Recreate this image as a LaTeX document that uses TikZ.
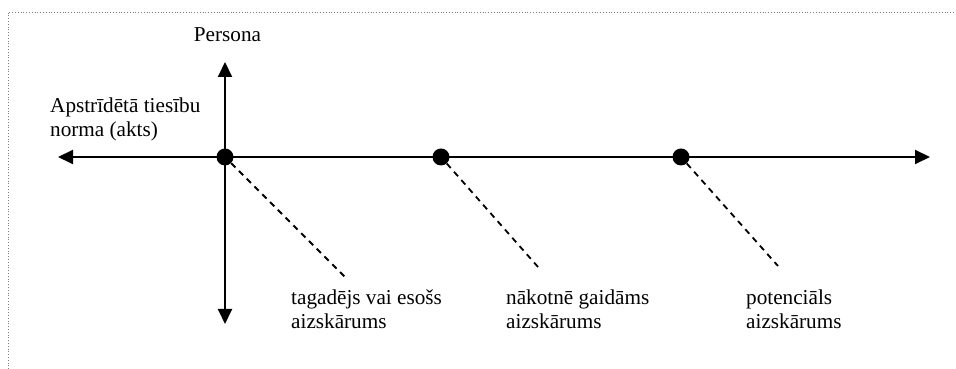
\documentclass[tikz,border=0pt]{standalone}
\usepackage{fontspec}
\setmainfont{Liberation Serif}
\usetikzlibrary{arrows.meta}
\begin{document}
\begin{tikzpicture}[x=1pt,y=1pt,
  axis/.style={line width=2pt,arrows={Triangle[length=15pt,width=14pt]-Triangle[length=15pt,width=14pt]}},
  point/.style={circle,fill=black,inner sep=0pt,minimum size=17pt},
  hint/.style={line width=1.8pt,dash pattern=on 6pt off 5pt},
  lbl/.style={font=\fontsize{21.2}{24}\selectfont,inner sep=0pt,align=left,anchor=base west},
  frame/.style={gray,line width=0.8pt,dotted}]
\useasboundingbox (0,0) rectangle (956,369);
% partial page frame
\coordinate (f0) at (8,0);
\coordinate (f1) at (8,357);
\coordinate (f2) at (956,357);
\draw[frame] (f0) -- (f1) -- (f2);
% axes
\coordinate (L) at (58,212);
\coordinate (R) at (930,212);
\coordinate (T) at (225,307);
\coordinate (B) at (225,45);
\draw[axis] (L) -- (R);
\draw[axis] (B) -- (T);
% points on the time axis
\node[point] (d1) at (225,212) {};
\node[point] (d2) at (441,212) {};
\node[point] (d3) at (681,212) {};
% dashed pointers to labels
\coordinate (e1) at (345,92);
\coordinate (e2) at (538,102);
\coordinate (e3) at (778,103);
\draw[hint] (d1) -- (e1);
\draw[hint] (d2) -- (e2);
\draw[hint] (d3) -- (e3);
% texts (base anchor sits on the last line)
\node[lbl,anchor=base] (persona) at (227.5,327) {Persona};
\node[lbl] (norma) at (50,232) {Apstrīdētā tiesību\\norma (akts)};
\node[lbl] (l1) at (291,40) {tagadējs vai esošs\\aizskārums};
\node[lbl] (l2) at (506,40) {nākotnē gaidāms\\aizskārums};
\node[lbl] (l3) at (746,40) {potenciāls\\aizskārums};
\end{tikzpicture}
\end{document}
